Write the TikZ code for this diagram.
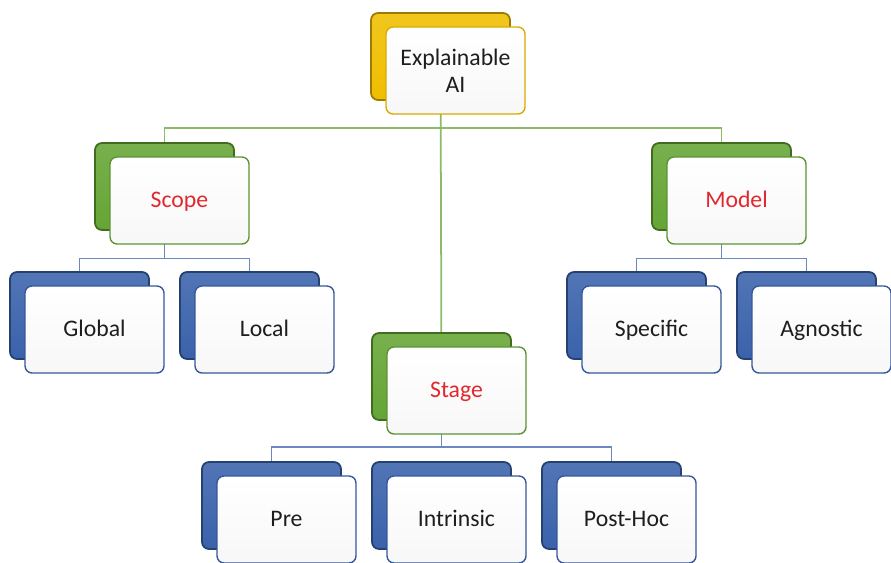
\documentclass[tikz,border=0pt]{standalone}
\usepackage{fontspec}
\setmainfont{Carlito}
\usetikzlibrary{backgrounds}
\definecolor{CardGold}{HTML}{F0BE00}
\definecolor{CardGreen}{HTML}{65A535}
\definecolor{CardBlue}{HTML}{3A62AB}
\definecolor{LabelRed}{HTML}{E0282E}
\definecolor{LabelInk}{HTML}{1E1E1E}
\colorlet{BusGreen}{CardGreen!75!white}
\colorlet{BusBlue}{CardBlue!75!white}

\begin{document}
\begin{tikzpicture}[
        x=0.02cm, y=-0.02cm,
        back/.style={rectangle, rounded corners=4pt, inner sep=0pt,
            minimum width=2.78cm, minimum height=1.74cm, line width=1pt,
            draw=#1!65!black, top color=#1!88!white, bottom color=#1},
        front/.style={rectangle, rounded corners=4pt, inner sep=2pt, align=center,
            minimum width=2.78cm, minimum height=1.74cm, line width=0.8pt,
            draw=#1!90!black, top color=white, bottom color=gray!6,
            xshift=0.3cm, yshift=-0.28cm, text=LabelInk,
            font=\fontsize{13.5}{15.3}\selectfont},
        oneline/.style={text height=8.7pt, text depth=0.3pt},
        head/.style={text=LabelRed},
        greenbus/.style={BusGreen, line width=1pt},
        bluebus/.style={BusBlue, line width=1pt}
    ]

    % Canvas
    \useasboundingbox (0,0) rectangle (891,562);

    % Root card
    \node[back=CardGold] (xaiBack) at (440.5,56.5) {};
    \node[front=CardGold] (xai) at (xaiBack) {Explainable\\AI};

    % Branch cards
    \foreach \n/\x/\y/\t in {scope/164.5/186.5/Scope, model/721.5/186.5/Model,
                             stage/441.5/376.5/Stage} {
        \node[back=CardGreen] (\n Back) at (\x,\y) {};
        \node[front=CardGreen, oneline, head] (\n) at (\n Back) {\t};
    }

    % Leaf cards
    \foreach \n/\x/\y/\t in {global/79.5/315.5/Global, local/249.5/315.5/Local,
                             specific/636.5/315.5/Specific, agnostic/806.5/315.5/Agnostic,
                             pre/271.5/505.5/Pre, intrinsic/441.5/505.5/Intrinsic,
                             posthoc/611.5/505.5/Post-Hoc} {
        \node[back=CardBlue] (\n Back) at (\x,\y) {};
        \node[front=CardBlue, oneline] (\n) at (\n Back) {\t};
    }

    % Bus levels
    \coordinate (topBus) at (0,128);
    \coordinate (midBus) at (0,258.5);
    \coordinate (lowBus) at (0,447);

    % Connectors (behind the cards)
    \begin{scope}[on background layer]
        \draw[greenbus] (xaiBack.center) -- (stageBack.center);
        \draw[greenbus] (scopeBack.center) -- (scopeBack |- topBus)
            -- (modelBack |- topBus) -- (modelBack.center);
        \draw[bluebus] (scopeBack.center) -- (scopeBack |- midBus);
        \draw[bluebus] (globalBack.center) -- (globalBack |- midBus)
            -- (localBack |- midBus) -- (localBack.center);
        \draw[bluebus] (modelBack.center) -- (modelBack |- midBus);
        \draw[bluebus] (specificBack.center) -- (specificBack |- midBus)
            -- (agnosticBack |- midBus) -- (agnosticBack.center);
        \draw[bluebus] (stageBack.center) -- (stageBack |- lowBus);
        \draw[bluebus] (preBack.center) -- (preBack |- lowBus)
            -- (posthocBack |- lowBus) -- (posthocBack.center);
    \end{scope}

\end{tikzpicture}
\end{document}
